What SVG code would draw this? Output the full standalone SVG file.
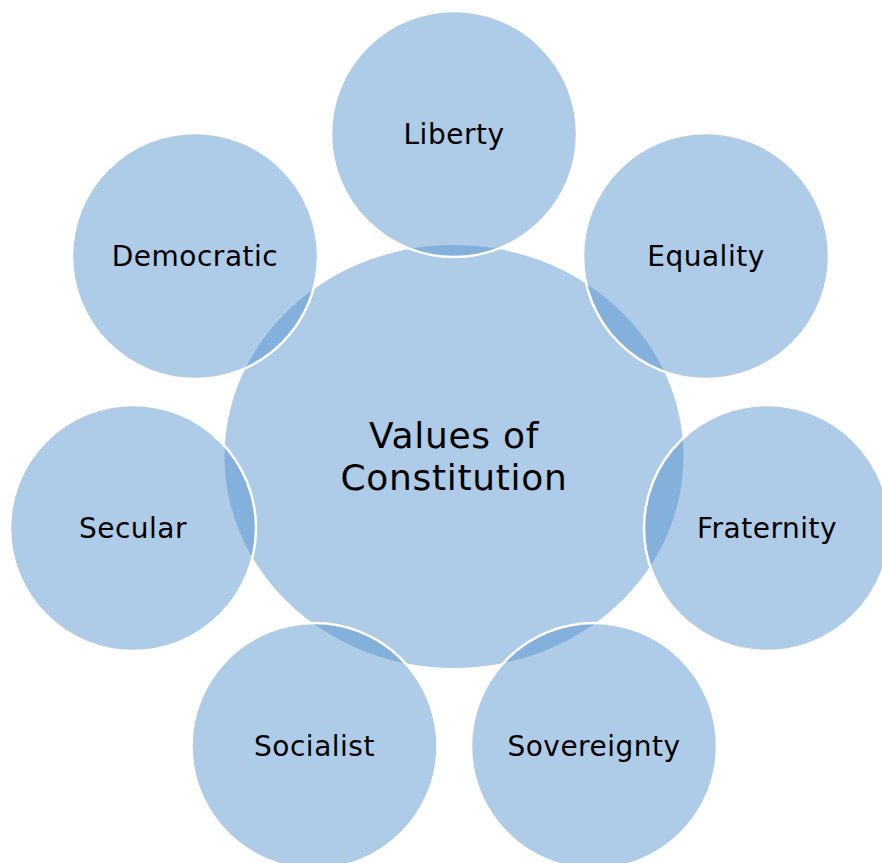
<svg xmlns="http://www.w3.org/2000/svg" width="882" height="863" viewBox="0 0 882 863">
<style>
.c{fill:#5593CF;fill-opacity:0.48}
.s{stroke:#FFFFFF;stroke-width:2.5}
text{font-family:"DejaVu Sans","Verdana",sans-serif;fill:#000000;text-anchor:middle}
.t{font-size:28px;letter-spacing:0.5px}
.m{font-size:36px;letter-spacing:0.7px}
</style>
<rect width="882" height="863" fill="#FFFFFF"/>
<g id="center">
<ellipse class="c" cx="454" cy="456.5" rx="229.5" ry="211.5"/>
</g>
<g id="connectors"></g>
<g id="liberty"><circle class="c s" cx="454" cy="134" r="123"/><text class="t" x="454" y="144">Liberty</text></g>
<g id="equality"><circle class="c s" cx="706" cy="256" r="123"/><text class="t" x="706" y="266">Equality</text></g>
<g id="fraternity"><circle class="c s" cx="767" cy="528" r="123"/><text class="t" x="767" y="538">Fraternity</text></g>
<g id="sovereignty"><circle class="c s" cx="594" cy="746" r="123"/><text class="t" x="594" y="756">Sovereignty</text></g>
<g id="socialist"><circle class="c s" cx="314.5" cy="746" r="123"/><text class="t" x="314.5" y="756">Socialist</text></g>
<g id="secular"><circle class="c s" cx="133" cy="528" r="123"/><text class="t" x="133" y="538">Secular</text></g>
<g id="democratic"><circle class="c s" cx="195" cy="256" r="123"/><text class="t" x="195" y="266">Democratic</text></g>
<g id="center-label"><text class="m" x="454" y="448">Values of</text><text class="m" x="454" y="490">Constitution</text></g>
</svg>
